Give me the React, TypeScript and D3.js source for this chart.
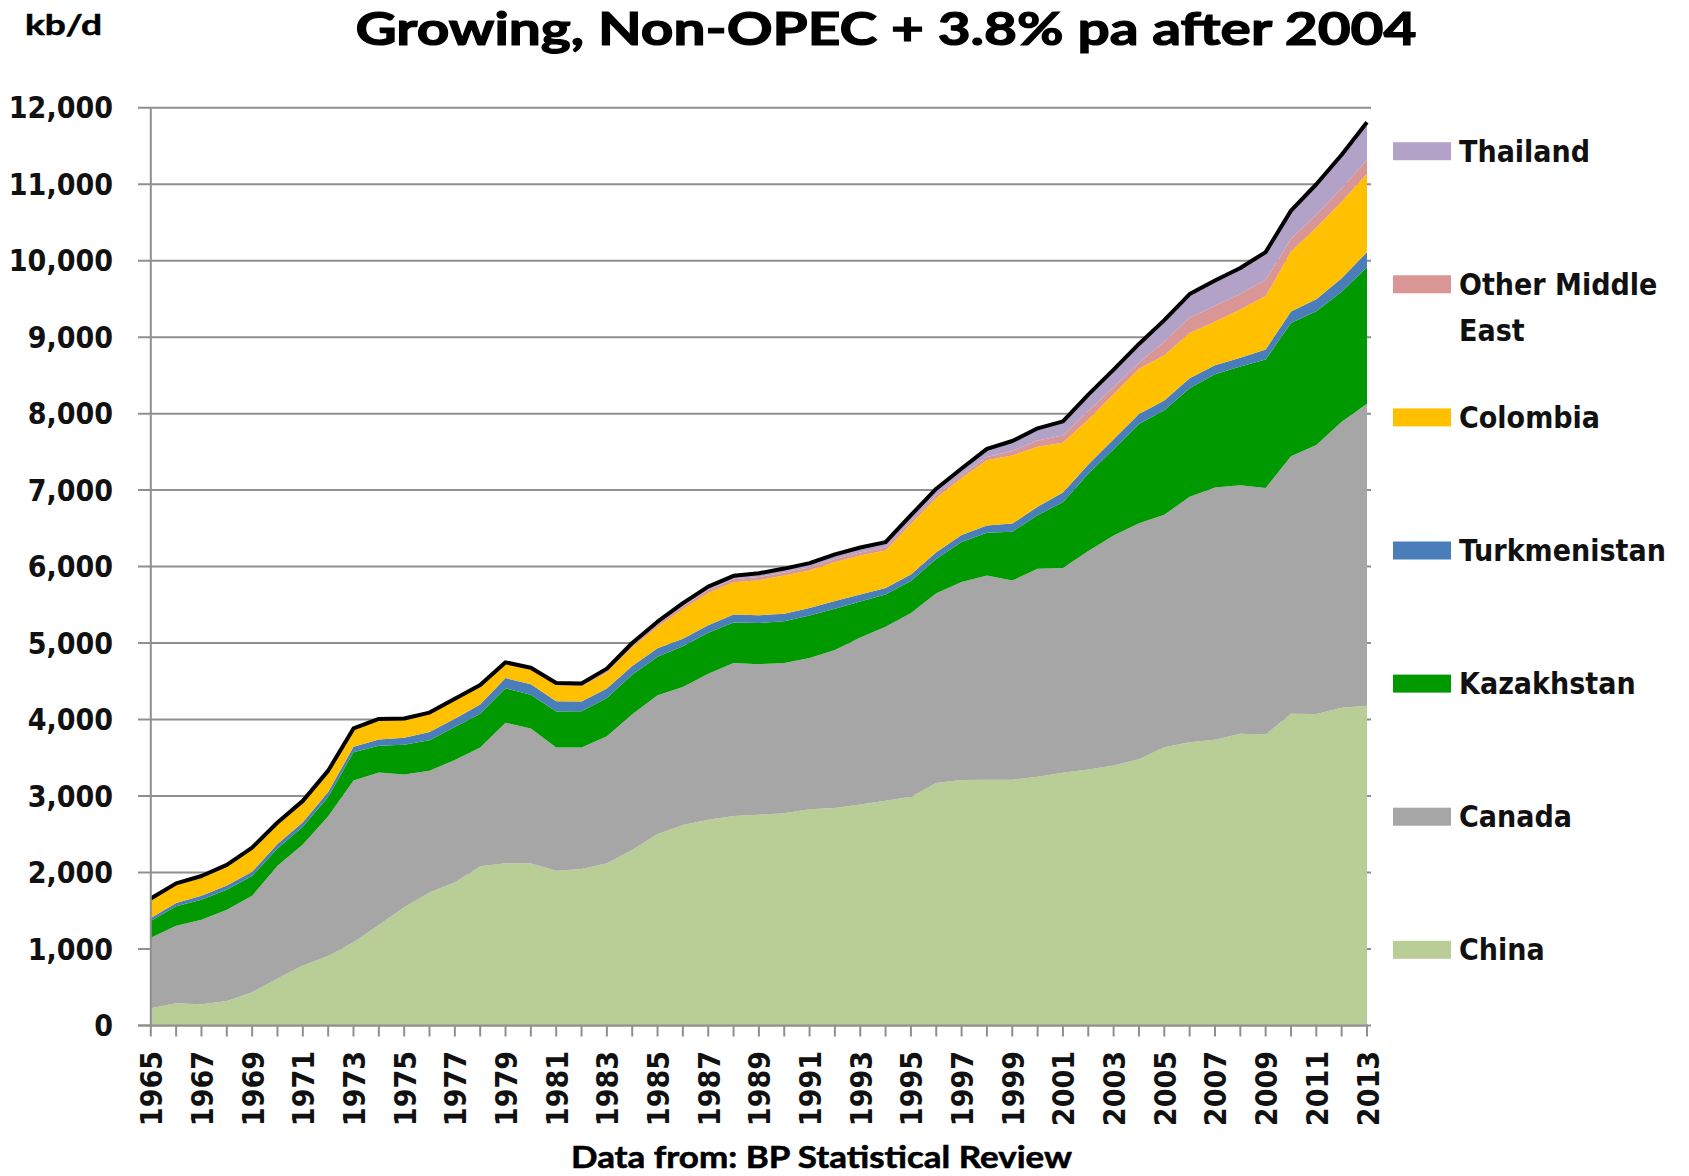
import React from 'react';
import * as d3 from 'd3';

const years = [1965,1966,1967,1968,1969,1970,1971,1972,1973,1974,1975,1976,1977,1978,1979,1980,1981,1982,1983,1984,1985,1986,1987,1988,1989,1990,1991,1992,1993,1994,1995,1996,1997,1998,1999,2000,2001,2002,2003,2004,2005,2006,2007,2008,2009,2010,2011,2012,2013];

const china = [227,291,278,320,436,616,785,908,1090,1315, 1546,1739,1874,2082,2122,2119,2024,2045,2121,2296, 2505,2620,2690,2738,2757,2774,2828,2845,2890,2939, 2990,3170,3211,3212,3213,3252,3306,3346,3401,3481, 3637,3705,3737,3814,3805,4077,4074,4155,4180];
const canada = [920,1012,1106,1194,1260,1473,1582,1829,2114,1993, 1735,1592,1598,1554,1836,1764,1610,1590,1660,1775, 1812,1807,1909,2001,1966,1965,1977,2065,2184,2276, 2402,2480,2588,2672,2604,2721,2677,2858,3004,3085, 3041,3208,3297,3251,3222,3367,3515,3740,3948];
const kazakhstan = [218,255,261,261,260,225,230,250,370,350, 390,400,430,440,450,440,470,475,500,515, 505,530,535,530,540,545,555,540,470,420, 420,450,523,560,640,700,860,1010,1130,1300, 1365,1420,1482,1550,1680,1740,1750,1700,1787];
const turkmenistan = [40,45,50,55,55,60,60,65,70,80, 90,105,110,120,135,140,135,125,125,115, 110,100,100,105,100,100,100,100,90,85, 85,88,90,95,105,110,125,120,130,130, 130,130,115,115,130,150,155,175,195];
const colombia = [231,230,235,245,290,255,255,255,215,245, 228,230,235,230,180,190,210,200,210,245, 278,390,420,420,460,500,490,510,510,490, 660,710,745,850,890,785,650,590,590,590, 590,590,570,630,700,785,935,1000,1025];
const otherMiddleEast = [25,25,25,25,25,25,25,25,25,25, 25,25,25,25,25,25,25,25,30,30, 35,35,40,40,40,40,40,40,40,40, 40,40,40,45,60,80,95,110,90,80, 180,200,210,205,215,165,170,175,185];
const thailand = [0,0,0,0,0,0,0,0,0,0, 0,0,0,0,0,0,5,12,20,25, 35,40,45,45,50,50,55,60,65,70, 75,80,85,105,130,160,185,215,230,245, 280,310,330,340,360,370,400,440,490];

const seriesNames = ['China', 'Canada', 'Kazakhstan', 'Turkmenistan', 'Colombia', 'Other Middle East', 'Thailand'];
const seriesValues = [china, canada, kazakhstan, turkmenistan, colombia, otherMiddleEast, thailand];
const seriesColors = ['#B9CD96', '#A6A6A6', '#009900', '#4A7EBB', '#FFC000', '#D99694', '#B3A2C7'];
const legendLabels = [['Thailand'], ['Other Middle', 'East'], ['Colombia'], ['Turkmenistan'], ['Kazakhstan'], ['Canada'], ['China']];
const legendColors = ['#B3A2C7', '#D99694', '#FFC000', '#4A7EBB', '#009900', '#A6A6A6', '#B9CD96'];
const yTicks = [0,1000,2000,3000,4000,5000,6000,7000,8000,9000,10000,11000,12000];

const W = 1689, H = 1176;
const X0 = 150.8, X1 = 1367, Y0 = 1025.5, Y1 = 107.7;
const axisFont = "'DejaVu Sans Condensed', 'DejaVu Sans', sans-serif";
const titleFont = "Lato, 'Open Sans', sans-serif";

export default function App() {
  const x = d3.scaleLinear().domain([1965, 2013]).range([X0, X1]);
  const y = d3.scaleLinear().domain([0, 12000]).range([Y0, Y1]);

  const table = years.map((yr, i) => {
    const row: any = { year: yr };
    seriesNames.forEach((n, k) => { row[n] = seriesValues[k][i]; });
    return row;
  });
  const stack = d3.stack().keys(seriesNames)(table as any);
  const area = d3.area<any>()
    .x((d: any) => x(d.data.year))
    .y0((d: any) => y(d[0]))
    .y1((d: any) => y(d[1]));
  const totals = years.map((yr, i) => ({ year: yr, v: seriesValues.reduce((s, arr) => s + arr[i], 0) }));
  const line = d3.line<any>().x(d => x(d.year)).y(d => y(d.v));

  const fmt = d3.format(',');

  return (
    <svg width={W} height={H} style={{ position: 'absolute', left: 0, top: 0, background: '#fff' }}>
      <rect x={0} y={0} width={W} height={H} fill="#fff" />
      {yTicks.map(t => (
        <line key={'g' + t} x1={138} x2={X1 + 4} y1={y(t)} y2={y(t)} stroke="#8f8f8f" strokeWidth={2} />
      ))}
      {stack.map((s, k) => (
        <path key={seriesNames[k]} d={area(s as any) || ''} fill={seriesColors[k]} />
      ))}
      <path d={line(totals) || ''} fill="none" stroke="#000" strokeWidth={4} strokeLinejoin="round" />
      <line x1={X0} x2={X0} y1={Y1} y2={Y0} stroke="#8f8f8f" strokeWidth={2} />
      <line x1={138} x2={X1 + 1} y1={Y0} y2={Y0} stroke="#8f8f8f" strokeWidth={2} />
      {years.map(yr => (
        <line key={'t' + yr} x1={x(yr)} x2={x(yr)} y1={Y0} y2={Y0 + 11} stroke="#8f8f8f" strokeWidth={2} />
      ))}
      {yTicks.map(t => (
        <text key={'yl' + t} x={113} y={y(t) + 10.5} textAnchor="end" fontFamily={axisFont} fontWeight="bold" fontSize={30} fill="#111">{fmt(t)}</text>
      ))}
      {years.filter(yr => (yr - 1965) % 2 === 0).map(yr => (
        <text key={'xl' + yr} transform={`translate(${x(yr) + 1},${1051}) rotate(-90)`} textAnchor="end" dominantBaseline="central" fontFamily={axisFont} fontWeight="bold" fontSize={30} fill="#111">{yr}</text>
      ))}
      {legendLabels.map((lines, i) => {
        const cy = 151.2 + i * 133.1;
        return (
          <g key={'lg' + i}>
            <rect x={1393} y={cy - 9} width={58} height={18} fill={legendColors[i]} />
            {lines.map((ln, j) => (
              <text key={j} x={1459} y={cy + 10.5 + j * 46} fontFamily={axisFont} fontWeight="bold" fontSize={30} fill="#111">{ln}</text>
            ))}
          </g>
        );
      })}
      <text x={355.5} y={45} fontFamily={titleFont} fontWeight="bold" fontSize={45} textLength={1061} lengthAdjust="spacingAndGlyphs" fill="#000" stroke="#000" strokeWidth={1.2}>Growing, Non-OPEC + 3.8% pa after 2004</text>
      <text x={25} y={35} fontFamily={titleFont} fontWeight="bold" fontSize={28} textLength={77} lengthAdjust="spacingAndGlyphs" fill="#000" stroke="#000" strokeWidth={0.5}>kb/d</text>
      <text x={571} y={1168} fontFamily={titleFont} fontWeight="bold" fontSize={31} textLength={501} lengthAdjust="spacingAndGlyphs" fill="#000" stroke="#000" strokeWidth={0.6}>Data from: BP Statistical Review</text>
    </svg>
  );
}
